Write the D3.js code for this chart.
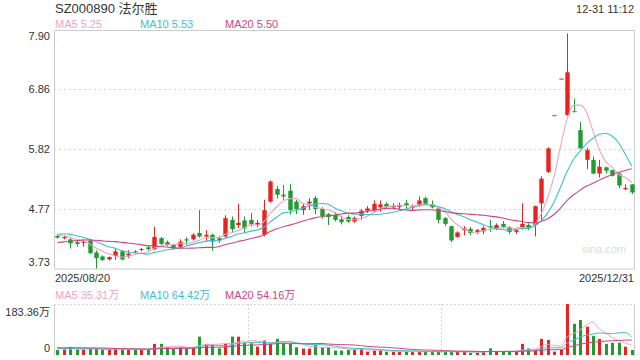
<!DOCTYPE html>
<html><head><meta charset="utf-8">
<script src="https://cdn.jsdelivr.net/npm/d3@7"></script>
<style>
body{margin:0;background:#fff;}
svg{display:block;font-family:Arial,"Liberation Sans","Noto Sans CJK SC",sans-serif;}
</style>
</head><body>
<svg id="c" width="640" height="360"></svg>
<script>
// ---------- data ----------
const title = "SZ000890 法尔胜";
const timeLabel = "12-31 11:12";
const dateLabels = ["2025/08/20", "2025/12/31"];
const priceTicks = [3.73, 4.77, 5.82, 6.86, 7.90];
const volTickLabels = ["183.36万", "0"];
const volMax = 183.36;
const maNames = ["MA5", "MA10", "MA20"];
const maPeriods = [5, 10, 20];
const maLegendValues = ["5.25", "5.53", "5.50"];
const volMaLegendValues = ["35.31万", "64.42万", "54.16万"];

const open  = [4.30,4.26,4.24,4.19,4.18,4.22,4.01,3.94,3.89,3.95, 4.03,3.96,4.03,4.06,4.10,4.07,4.26,4.19,4.14,4.11,
               4.24,4.24,4.35,4.29,4.32,4.26,4.29,4.58,4.49,4.57, 4.58,4.50,4.32,4.90,5.12,5.02,5.09,4.90,4.75,4.87,
               4.96,4.77,4.68,4.67,4.59,4.63,4.55,4.65,4.74,4.75, 4.80,4.86,4.80,4.81,4.87,4.79,4.84,4.96,4.85,4.78,
               4.61,4.47,4.28,4.40,4.42,4.37,4.38,4.47,4.43,4.51, 4.45,4.37,4.43,4.49,4.49,4.87,5.42,6.41,7.05,6.41,
               6.48,6.15,5.63,5.63,5.39,5.50,5.45,5.39,5.12,5.20];
const high  = [4.32,4.31,4.26,4.23,4.24,4.24,4.05,3.96,3.94,4.07, 4.05,4.05,4.05,4.09,4.14,4.46,4.28,4.22,4.16,4.24,
               4.28,4.35,4.75,4.40,4.34,4.30,4.66,4.64,4.86,4.64, 4.70,4.58,4.93,5.27,5.17,5.19,5.21,4.93,4.87,4.96,
               5.00,4.80,4.70,4.72,4.65,4.67,4.64,4.77,4.82,4.92, 4.92,4.89,4.87,4.88,4.93,4.85,4.99,4.99,4.92,4.80,
               4.63,4.48,4.38,4.47,4.46,4.42,4.47,4.58,4.52,4.56, 4.47,4.42,4.87,4.52,4.83,5.34,5.85,6.41,7.05,7.84,
               6.70,6.29,5.84,5.69,5.63,5.51,5.46,5.40,5.20,5.21];
const low   = [4.25,4.24,4.08,4.11,4.11,3.98,3.73,3.86,3.87,3.88, 3.87,3.91,4.00,4.03,4.04,4.05,4.14,4.12,4.06,4.08,
               4.14,4.22,4.27,4.20,4.04,4.18,4.26,4.35,4.44,4.36, 4.46,4.45,4.29,4.88,4.95,4.93,4.67,4.68,4.67,4.75,
               4.68,4.60,4.49,4.55,4.50,4.53,4.53,4.58,4.70,4.70, 4.72,4.78,4.76,4.76,4.78,4.75,4.81,4.84,4.78,4.52,
               4.47,4.19,4.27,4.31,4.31,4.33,4.33,4.37,4.40,4.43, 4.33,4.33,4.41,4.40,4.29,4.58,5.40,6.41,7.05,6.40,
               6.48,5.83,5.47,5.38,5.32,5.39,5.34,5.13,5.10,5.03];
const close = [4.27,4.28,4.17,4.16,4.20,4.00,3.91,3.88,3.93,4.03, 3.89,3.99,4.02,4.07,4.07,4.28,4.16,4.14,4.08,4.20,
               4.22,4.32,4.29,4.32,4.20,4.22,4.61,4.42,4.53,4.43, 4.50,4.53,4.75,5.25,5.02,4.99,4.75,4.77,4.82,4.90,
               4.77,4.64,4.63,4.58,4.54,4.55,4.61,4.74,4.78,4.86, 4.85,4.81,4.82,4.84,4.84,4.81,4.92,4.86,4.80,4.58,
               4.51,4.22,4.36,4.43,4.35,4.40,4.44,4.45,4.49,4.46, 4.37,4.40,4.51,4.44,4.82,5.30,5.83,6.41,7.05,7.16,
               6.48,5.83,5.80,5.39,5.51,5.44,5.35,5.18,5.14,5.06];
const volume = [18,20,29,20,20,23,23,20,20,23, 20,20,20,18,20,40,40,28,23,28,
                23,28,66,40,36,24,40,66,66,44, 42,30,52,40,58,44,40,28,23,23,
                36,28,28,16,16,18,20,24,12,16, 16,12,12,12,12,12,12,12,12,12,
                12,12,12,12,8,8,12,24,12,12, 12,12,40,24,18,58,54,12,20,183.36,
                112,126,102,68,58,40,44,44,30,18];
// closes / volumes of the 19 sessions before the first candle (for the moving averages)
const priorCloses = [3.95,3.96,3.94,3.98,3.96,4.05,4.08,4.10,4.12,4.15,4.20,4.28,4.40,4.45,4.37,4.35,4.30,4.36,4.31];
const priorVolumes = [20,22,18,25,30,28,24,35,40,32,28,26,30,24,22,25,28,22,20];

// ---------- styles ----------
const RED = "#e8231f", GREEN = "#1f9b30";
const maColors = ["#f2a3c4", "#3fc1cb", "#cf4585"];
const gridColor = "#d6d6d6", borderColor = "#cccccc", textColor = "#333";

const svg = d3.select("#c");
const L = 54, R = 635;
const mainTop = 30, mainBot = 268.5;
const volTop = 304, volBot = 355;
const n = close.length;

const x = d3.scaleBand().domain(d3.range(n)).range([L, R]).padding(0);
const cx = i => x(i) + x.bandwidth() / 2;
const y = d3.scaleLinear().domain([priceTicks[0], priceTicks[priceTicks.length - 1]]).range([mainBot, mainTop]);
const yv = d3.scaleLinear().domain([0, volMax]).range([volBot, volTop]);

function isUp(i) {
  if (close[i] > open[i]) return true;
  if (close[i] < open[i]) return false;
  return i === 0 ? true : close[i] >= close[i - 1];
}
function movingAvg(prior, vals, p) {
  const full = prior.concat(vals);
  const off = prior.length;
  return vals.map((_, i) => d3.mean(full.slice(off + i - p + 1, off + i + 1)));
}

// ---------- header ----------
svg.append("text").attr("x", 55).attr("y", 13).attr("font-size", 13).attr("fill", textColor).text(title);
svg.append("text").attr("x", 634).attr("y", 13).attr("font-size", 11).attr("text-anchor", "end").attr("fill", textColor).text(timeLabel);
const legX = [55, 140, 225];
maNames.forEach((nm, k) => {
  svg.append("text").attr("x", legX[k]).attr("y", 28).attr("font-size", 11).attr("fill", maColors[k]).text(nm + " " + maLegendValues[k]);
  svg.append("text").attr("x", legX[k]).attr("y", 299).attr("font-size", 11).attr("fill", maColors[k]).text(nm + " " + volMaLegendValues[k]);
});

// ---------- main panel grid ----------
const g = svg.append("g");
priceTicks.forEach((t, k) => {
  const yy = Math.round(y(t)) + 0.5;
  if (k > 0 && k < priceTicks.length - 1) {
    g.append("line").attr("x1", L).attr("x2", R).attr("y1", yy).attr("y2", yy)
      .attr("stroke", gridColor).attr("stroke-dasharray", "2,3");
  }
  let ty = y(t) + 4;
  if (k === 0) ty = y(t) - 3;
  if (k === priceTicks.length - 1) ty = y(t) + 10;
  g.append("text").attr("x", 50).attr("y", ty).attr("font-size", 11).attr("text-anchor", "end")
    .attr("fill", textColor).text(t.toFixed(2));
});
// borders
g.append("rect").attr("x", L + 0.5).attr("y", mainTop + 0.5).attr("width", R - L - 1).attr("height", mainBot - mainTop)
  .attr("fill", "none").attr("stroke", borderColor);

// watermark
svg.append("text").attr("x", 582).attr("y", 253).attr("font-size", 11).attr("fill", "#dcdcdc").text("sina.com");

// date labels
svg.append("text").attr("x", 55).attr("y", 282).attr("font-size", 11).attr("fill", textColor).text(dateLabels[0]);
svg.append("text").attr("x", 634).attr("y", 282).attr("font-size", 11).attr("text-anchor", "end").attr("fill", textColor).text(dateLabels[1]);

// ---------- candles ----------
const bw = 4.4;
const cg = svg.append("g");
d3.range(n).forEach(i => {
  const col = isUp(i) ? RED : GREEN;
  const xc = Math.round(cx(i)) + 0.5;
  cg.append("line").attr("x1", xc).attr("x2", xc).attr("y1", y(high[i])).attr("y2", y(low[i]))
    .attr("stroke", col).attr("stroke-width", 1);
  const top = y(Math.max(open[i], close[i])), bot = y(Math.min(open[i], close[i]));
  cg.append("rect").attr("x", xc - bw / 2).attr("y", top).attr("width", bw).attr("height", Math.max(1, bot - top))
    .attr("fill", col);
});

// MA lines (main)
const clipMain = svg.append("clipPath").attr("id", "cm");
clipMain.append("rect").attr("x", L).attr("y", mainTop).attr("width", R - L).attr("height", mainBot - mainTop);
const lineGen = d3.line().x((d, i) => cx(i)).y(d => y(d)).curve(d3.curveMonotoneX);
maPeriods.forEach((p, k) => {
  const ma = movingAvg(priorCloses, close, p);
  svg.append("path").attr("d", lineGen(ma)).attr("fill", "none").attr("stroke", maColors[k])
    .attr("stroke-width", 1.1).attr("clip-path", "url(#cm)");
});

// ---------- volume panel ----------
const vg = svg.append("g");
vg.append("line").attr("x1", L).attr("x2", R).attr("y1", volTop + 0.5).attr("y2", volTop + 0.5)
  .attr("stroke", gridColor).attr("stroke-dasharray", "2,2");
[1, 2].forEach(k => {
  const xx = Math.round(L + (R - L) * k / 3) + 0.5;
  vg.append("line").attr("x1", xx).attr("x2", xx).attr("y1", volTop).attr("y2", volBot)
    .attr("stroke", gridColor).attr("stroke-dasharray", "2,2");
});
vg.append("line").attr("x1", L + 0.5).attr("x2", L + 0.5).attr("y1", volTop).attr("y2", volBot + 1).attr("stroke", borderColor);
vg.append("line").attr("x1", R - 0.5).attr("x2", R - 0.5).attr("y1", volTop).attr("y2", volBot + 1).attr("stroke", borderColor);
vg.append("text").attr("x", 50).attr("y", 316).attr("font-size", 11).attr("text-anchor", "end").attr("fill", textColor).text(volTickLabels[0]);
vg.append("text").attr("x", 50).attr("y", 352).attr("font-size", 11).attr("text-anchor", "end").attr("fill", textColor).text(volTickLabels[1]);

const vbw = 3;
d3.range(n).forEach(i => {
  const col = isUp(i) ? RED : GREEN;
  const xc = Math.round(cx(i));
  vg.append("rect").attr("x", xc - 1).attr("y", yv(volume[i])).attr("width", vbw)
    .attr("height", volBot - yv(volume[i])).attr("fill", col);
});
const clipVol = svg.append("clipPath").attr("id", "cv");
clipVol.append("rect").attr("x", L).attr("y", volTop).attr("width", R - L).attr("height", volBot - volTop);
const vLine = d3.line().x((d, i) => cx(i)).y(d => yv(d)).curve(d3.curveMonotoneX);
maPeriods.forEach((p, k) => {
  const ma = movingAvg(priorVolumes, volume, p);
  vg.append("path").attr("d", vLine(ma)).attr("fill", "none").attr("stroke", maColors[k])
    .attr("stroke-width", 1).attr("clip-path", "url(#cv)");
});
</script>
</body></html>
